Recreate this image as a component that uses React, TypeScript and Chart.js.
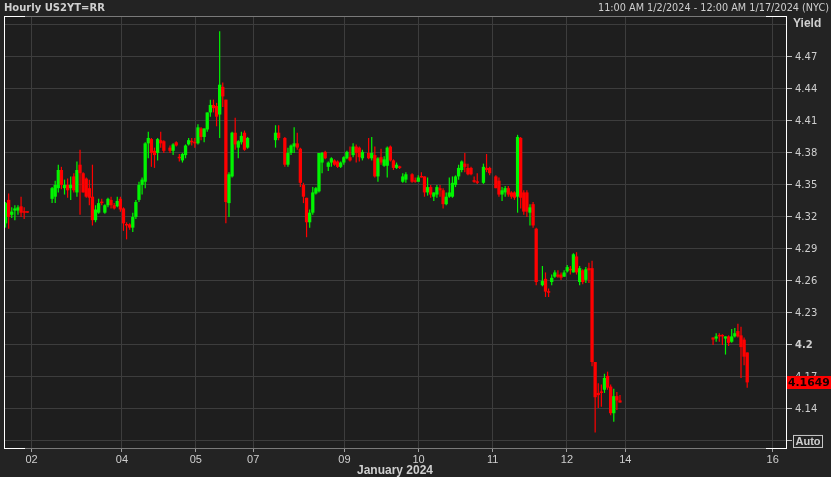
import React, { useEffect, useRef } from 'react';
import { Chart, registerables } from 'chart.js';

Chart.register(...registerables);

// ---- Data (hourly candles, slot = hour index on the trading axis) ----
const slots = [
  0, 1, 2, 3, 4, 5, 6, 7,
  15, 16, 17, 18, 19, 20, 21, 22, 23, 24, 25, 26, 27, 28, 29, 30, 31, 32, 33, 34, 35, 36, 37, 38, 39, 40,
  41, 42, 43, 44, 45, 46, 47, 48, 49, 50, 51, 53, 54, 55, 56, 57, 58, 59, 60, 61, 62, 63, 64, 65, 66, 67,
  68, 69, 70, 71, 72, 73, 74, 75, 76, 77, 78,
  87, 88, 90, 91, 92, 93, 94, 95, 96, 97, 98, 99, 100, 101, 102, 103, 104, 105, 106, 107, 108, 109, 110,
  111, 112, 113, 114, 115, 117, 118, 119, 120, 121, 122, 123, 124, 125, 126, 127, 128, 129,
  131, 132, 133, 134, 135, 136, 137, 138, 139, 140, 141, 142, 143, 144, 145, 146, 147, 148, 149, 150,
  151, 152, 154, 155, 156, 158, 159, 160, 161, 162, 163, 164, 165, 166, 167, 168, 169, 170, 171,
  173, 174, 175, 176, 177, 178, 179, 180, 181, 182, 183, 184, 185, 186, 187, 188, 189, 190, 191, 192,
  193, 194, 195, 196, 197, 198,
  228, 229, 230, 231, 232, 233, 234, 235, 236, 237, 238, 239,
];
const opens = [
  4.314, 4.336, 4.322, 4.326, 4.326, 4.330, 4.325, 4.325,
  4.337, 4.339, 4.347, 4.364, 4.347, 4.350, 4.347, 4.358, 4.343, 4.369, 4.361, 4.356, 4.347, 4.339, 4.317, 4.324, 4.334, 4.324, 4.331, 4.336, 4.331, 4.330, 4.337, 4.328, 4.313, 4.313,
  4.310, 4.320, 4.336, 4.350, 4.353, 4.389, 4.393, 4.382, 4.380, 4.392, 4.391, 4.385, 4.382, 4.390, 4.376, 4.373, 4.378, 4.388, 4.391, 4.390, 4.389, 4.403, 4.395, 4.402, 4.418, 4.425,
  4.424, 4.416, 4.442, 4.430, 4.333, 4.358, 4.399, 4.385, 4.390, 4.399, 4.385,
  4.392, 4.399, 4.394, 4.369, 4.380, 4.386, 4.389, 4.384, 4.350, 4.338, 4.315, 4.324, 4.342, 4.344, 4.371, 4.381, 4.367, 4.371, 4.373, 4.372, 4.367, 4.371, 4.375,
  4.376, 4.378, 4.386, 4.385, 4.375, 4.380, 4.375, 4.378, 4.358, 4.376, 4.368, 4.368, 4.386, 4.373, 4.366, 4.367, 4.353, 4.355,
  4.360, 4.354, 4.353, 4.358, 4.358, 4.343, 4.348, 4.339, 4.341, 4.347, 4.345, 4.332, 4.339, 4.339, 4.350, 4.358, 4.364, 4.370, 4.366, 4.366,
  4.354, 4.353, 4.352, 4.366, 4.366, 4.358, 4.354, 4.341, 4.343, 4.347, 4.343, 4.343, 4.339, 4.394, 4.343, 4.343, 4.324, 4.332, 4.309,
  4.256, 4.262, 4.250, 4.259, 4.264, 4.266, 4.266, 4.264, 4.269, 4.271, 4.268, 4.283, 4.259, 4.270, 4.261, 4.272, 4.272, 4.184, 4.155, 4.156,
  4.158, 4.171, 4.161, 4.136, 4.152, 4.148,
  4.207, 4.206, 4.209, 4.209, 4.206, 4.208, 4.203, 4.208, 4.213, 4.209, 4.205, 4.193,
];
const highs = [
  4.334, 4.342, 4.329, 4.331, 4.331, 4.339, 4.329, 4.325,
  4.348, 4.354, 4.369, 4.367, 4.355, 4.356, 4.358, 4.361, 4.372, 4.383, 4.362, 4.357, 4.355, 4.369, 4.331, 4.337, 4.337, 4.332, 4.338, 4.339, 4.333, 4.339, 4.339, 4.329, 4.315, 4.314,
  4.324, 4.336, 4.353, 4.357, 4.390, 4.400, 4.394, 4.385, 4.394, 4.400, 4.392, 4.387, 4.389, 4.391, 4.379, 4.380, 4.388, 4.394, 4.394, 4.394, 4.407, 4.404, 4.403, 4.418, 4.430, 4.430,
  4.427, 4.494, 4.446, 4.430, 4.362, 4.400, 4.413, 4.392, 4.400, 4.401, 4.395,
  4.406, 4.406, 4.395, 4.385, 4.388, 4.404, 4.399, 4.385, 4.352, 4.338, 4.327, 4.348, 4.348, 4.380, 4.381, 4.382, 4.372, 4.376, 4.374, 4.373, 4.372, 4.377, 4.382,
  4.386, 4.389, 4.388, 4.386, 4.383, 4.394, 4.395, 4.386, 4.376, 4.384, 4.377, 4.386, 4.387, 4.374, 4.371, 4.368, 4.361, 4.362,
  4.361, 4.357, 4.359, 4.362, 4.358, 4.357, 4.350, 4.343, 4.350, 4.350, 4.347, 4.343, 4.357, 4.358, 4.359, 4.369, 4.373, 4.380, 4.370, 4.367,
  4.358, 4.361, 4.370, 4.379, 4.367, 4.359, 4.357, 4.348, 4.349, 4.349, 4.344, 4.344, 4.397, 4.395, 4.345, 4.345, 4.332, 4.334, 4.310,
  4.274, 4.268, 4.253, 4.266, 4.270, 4.270, 4.268, 4.270, 4.275, 4.274, 4.286, 4.287, 4.274, 4.271, 4.273, 4.277, 4.279, 4.184, 4.164, 4.163,
  4.173, 4.175, 4.163, 4.159, 4.156, 4.153,
  4.207, 4.211, 4.211, 4.210, 4.208, 4.209, 4.215, 4.216, 4.220, 4.217, 4.207, 4.193,
];
const lows = [
  4.310, 4.309, 4.319, 4.317, 4.322, 4.320, 4.318, 4.324,
  4.333, 4.333, 4.343, 4.346, 4.341, 4.338, 4.336, 4.343, 4.339, 4.322, 4.343, 4.338, 4.331, 4.312, 4.315, 4.323, 4.331, 4.323, 4.329, 4.328, 4.327, 4.329, 4.325, 4.307, 4.299, 4.308,
  4.306, 4.318, 4.334, 4.341, 4.347, 4.375, 4.367, 4.366, 4.373, 4.385, 4.380, 4.380, 4.378, 4.386, 4.372, 4.371, 4.375, 4.387, 4.387, 4.385, 4.388, 4.392, 4.390, 4.400, 4.414, 4.418,
  4.405, 4.394, 4.423, 4.314, 4.320, 4.357, 4.383, 4.375, 4.388, 4.382, 4.384,
  4.385, 4.392, 4.367, 4.367, 4.378, 4.380, 4.383, 4.348, 4.333, 4.301, 4.310, 4.322, 4.341, 4.343, 4.361, 4.374, 4.363, 4.367, 4.368, 4.366, 4.366, 4.369, 4.374,
  4.372, 4.376, 4.371, 4.372, 4.373, 4.374, 4.373, 4.357, 4.353, 4.369, 4.367, 4.357, 4.372, 4.364, 4.365, 4.365, 4.352, 4.352,
  4.352, 4.352, 4.353, 4.357, 4.339, 4.340, 4.338, 4.335, 4.338, 4.339, 4.328, 4.331, 4.338, 4.338, 4.348, 4.355, 4.362, 4.362, 4.359, 4.359,
  4.352, 4.351, 4.351, 4.362, 4.359, 4.347, 4.339, 4.335, 4.339, 4.339, 4.337, 4.336, 4.324, 4.328, 4.322, 4.320, 4.312, 4.310, 4.256,
  4.255, 4.245, 4.245, 4.256, 4.263, 4.263, 4.261, 4.264, 4.268, 4.266, 4.268, 4.266, 4.256, 4.257, 4.258, 4.258, 4.180, 4.118, 4.141, 4.142,
  4.155, 4.158, 4.134, 4.128, 4.139, 4.146,
  4.200, 4.203, 4.203, 4.200, 4.191, 4.199, 4.202, 4.207, 4.207, 4.169, 4.181, 4.160,
];
const closes = [
  4.333, 4.320, 4.325, 4.328, 4.329, 4.324, 4.324, 4.324,
  4.347, 4.350, 4.364, 4.350, 4.350, 4.345, 4.350, 4.345, 4.364, 4.361, 4.343, 4.339, 4.338, 4.317, 4.327, 4.333, 4.333, 4.331, 4.337, 4.331, 4.328, 4.335, 4.327, 4.314, 4.312, 4.310,
  4.320, 4.334, 4.350, 4.355, 4.389, 4.394, 4.380, 4.378, 4.393, 4.389, 4.382, 4.382, 4.388, 4.387, 4.375, 4.379, 4.387, 4.392, 4.390, 4.389, 4.404, 4.395, 4.403, 4.418, 4.425, 4.422,
  4.414, 4.444, 4.433, 4.334, 4.360, 4.399, 4.388, 4.391, 4.396, 4.383, 4.394,
  4.399, 4.394, 4.369, 4.380, 4.387, 4.389, 4.385, 4.352, 4.339, 4.315, 4.324, 4.343, 4.347, 4.380, 4.380, 4.375, 4.371, 4.375, 4.369, 4.367, 4.371, 4.376, 4.381,
  4.373, 4.386, 4.380, 4.376, 4.381, 4.375, 4.380, 4.358, 4.375, 4.371, 4.374, 4.385, 4.373, 4.366, 4.369, 4.366, 4.358, 4.360,
  4.353, 4.353, 4.357, 4.357, 4.343, 4.348, 4.341, 4.343, 4.348, 4.345, 4.332, 4.339, 4.343, 4.352, 4.358, 4.366, 4.372, 4.367, 4.360, 4.360,
  4.353, 4.352, 4.367, 4.364, 4.361, 4.347, 4.341, 4.345, 4.347, 4.341, 4.339, 4.338, 4.395, 4.338, 4.325, 4.325, 4.329, 4.312, 4.259,
  4.260, 4.250, 4.249, 4.263, 4.268, 4.264, 4.263, 4.268, 4.273, 4.270, 4.285, 4.268, 4.272, 4.259, 4.271, 4.270, 4.184, 4.151, 4.153, 4.155,
  4.169, 4.160, 4.136, 4.152, 4.148, 4.146,
  4.205, 4.208, 4.208, 4.208, 4.208, 4.202, 4.208, 4.211, 4.208, 4.198, 4.189, 4.1649,
];

const dayTickSlots = [8.4, 37.5, 61.3, 79.8, 109.2, 133.1, 157.0, 180.9, 199.7, 247.2];
const dayTickLabels = ['02', '04', '05', '07', '09', '10', '11', '12', '14', '16'];
const yieldTicks = [4.11, 4.14, 4.17, 4.2, 4.23, 4.26, 4.29, 4.32, 4.35, 4.38, 4.41, 4.44, 4.47, 4.5];

const chartTitle = 'Hourly US2YT=RR';
const rangeText = '11:00 AM 1/2/2024 - 12:00 AM 1/17/2024 (NYC)';
const monthLabel = 'January 2024';
const axisName = 'Yield';
const autoLabel = 'Auto';
const slotCount = 252;
const yMin = 4.1034;
const yMax = 4.5084;

const UP = '#00f500';
const DOWN = '#ff0000';
const TEXT = '#cfcfcf';
const GRID = '#3d3d3d';
const SANS = "'DejaVu Sans', Verdana, sans-serif";
const ARIAL = "'Liberation Sans', Arial, sans-serif";

const candleColor = (i: number) => (closes[i] >= opens[i] ? UP : DOWN);

const framePlugin = {
  id: 'framePlugin',
  beforeDraw(chart: any) {
    const { ctx, chartArea: a, width, height } = chart;
    ctx.save();
    ctx.fillStyle = '#232323';
    ctx.fillRect(0, 0, width, height);
    ctx.fillStyle = '#1e1e1e';
    ctx.fillRect(a.left, a.top, a.right - a.left, a.bottom - a.top);
    ctx.restore();
  },
  afterDraw(chart: any) {
    const { ctx, chartArea: a, width } = chart;
    const yScale = chart.scales.y;
    ctx.save();
    // frame
    ctx.lineWidth = 1;
    ctx.strokeStyle = '#7a7a7a';
    ctx.beginPath();
    ctx.moveTo(a.left, a.top + 0.5);
    ctx.lineTo(a.right, a.top + 0.5);
    ctx.moveTo(a.left, a.bottom + 0.5);
    ctx.lineTo(a.right, a.bottom + 0.5);
    ctx.stroke();
    ctx.strokeStyle = '#ffffff';
    ctx.beginPath();
    ctx.moveTo(a.left + 0.5, a.top);
    ctx.lineTo(a.left + 0.5, a.bottom + 1);
    ctx.moveTo(a.right + 0.5, a.top);
    ctx.lineTo(a.right + 0.5, a.bottom + 1);
    ctx.moveTo(a.left, a.top + 0.5);
    ctx.lineTo(a.left + 21, a.top + 0.5);
    ctx.moveTo(a.right - 20, a.top + 0.5);
    ctx.lineTo(a.right + 1, a.top + 0.5);
    ctx.moveTo(a.left, a.bottom + 0.5);
    ctx.lineTo(a.left + 21, a.bottom + 0.5);
    ctx.moveTo(a.right - 20, a.bottom + 0.5);
    ctx.lineTo(a.right + 1, a.bottom + 0.5);
    ctx.stroke();

    // header texts
    ctx.fillStyle = TEXT;
    ctx.textBaseline = 'alphabetic';
    ctx.textAlign = 'left';
    ctx.font = `bold 10px ${SANS}`;
    ctx.fillText(chartTitle, 4, 11);
    ctx.textAlign = 'right';
    ctx.font = `9.7px ${SANS}`;
    ctx.fillText(rangeText, width - 2, 11);

    // axis name
    ctx.textAlign = 'left';
    ctx.font = `bold 12px ${ARIAL}`;
    ctx.fillText(axisName, a.right + 7, 27);

    // Auto box
    const autoY = yScale.getPixelForValue(yieldTicks[0]);
    ctx.strokeStyle = '#c8c8c8';
    ctx.strokeRect(a.right + 7.5, autoY - 5.5, 29, 12);
    ctx.font = `bold 11px ${ARIAL}`;
    ctx.textAlign = 'center';
    ctx.textBaseline = 'middle';
    ctx.fillStyle = TEXT;
    ctx.fillText(autoLabel, a.right + 22, autoY + 1);

    // last price box
    const last = closes[closes.length - 1];
    const py = yScale.getPixelForValue(last);
    ctx.fillStyle = '#ff0000';
    ctx.fillRect(a.right + 1, Math.round(py) - 6, width - a.right - 1, 13);
    ctx.fillStyle = '#1a0000';
    ctx.textAlign = 'left';
    ctx.font = `bold 10.8px ${SANS}`;
    ctx.fillText(last.toFixed(4), a.right + 2, Math.round(py) + 1);
    ctx.restore();
  },
};

export default function App() {
  const canvasRef = useRef<HTMLCanvasElement | null>(null);

  useEffect(() => {
    document.body.style.margin = '0';
    document.body.style.background = '#232323';
    const canvas = canvasRef.current;
    if (!canvas) return;

    const wickData = slots.map((s, i) => ({ x: s, y: [lows[i], highs[i]] }));
    const bodyData = slots.map((s, i) => ({ x: s, y: [opens[i], closes[i]] }));
    const colors = slots.map((_, i) => candleColor(i));

    const chart = new Chart(canvas, {
      type: 'bar',
      data: {
        datasets: [
          {
            label: 'body',
            data: bodyData as any,
            backgroundColor: colors,
            barThickness: 3.3,
            grouped: false,
            minBarLength: 1.5,
            borderWidth: 0,
            inflateAmount: 0,
          },
          {
            label: 'wick',
            data: wickData as any,
            backgroundColor: colors,
            barThickness: 1.2,
            grouped: false,
            minBarLength: 1,
            borderWidth: 0,
            inflateAmount: 0,
          },
        ],
      },
      options: {
        animation: false,
        responsive: false,
        maintainAspectRatio: false,
        events: [],
        layout: { padding: { left: 4, top: 16, right: 0, bottom: 0 } },
        plugins: {
          legend: { display: false },
          tooltip: { enabled: false },
          title: { display: false },
        },
        scales: {
          x: {
            type: 'linear',
            min: -0.5,
            max: slotCount - 0.5,
            offset: false,
            afterBuildTicks: (s: any) => {
              s.ticks = dayTickSlots.map((v) => ({ value: v }));
            },
            afterFit: (s: any) => {
              s.height = 29;
            },
            grid: {
              offset: false,
              color: GRID,
              tickColor: '#a0a0a0',
              tickLength: 4,
              lineWidth: 1,
            },
            border: { display: false },
            ticks: {
              autoSkip: false,
              maxRotation: 0,
              padding: 1,
              color: TEXT,
              font: { family: ARIAL, size: 11 },
              callback: (_v: any, i: number) => dayTickLabels[i],
            },
            title: {
              display: true,
              text: monthLabel,
              color: TEXT,
              font: { family: ARIAL, size: 12, weight: 'bold', lineHeight: 1 },
              padding: { top: 0, bottom: 0 },
            },
          },
          y: {
            type: 'linear',
            position: 'right',
            min: yMin,
            max: yMax,
            afterBuildTicks: (s: any) => {
              s.ticks = yieldTicks.map((v) => ({ value: v }));
            },
            afterFit: (s: any) => {
              s.width = 45;
            },
            grid: {
              color: GRID,
              tickLength: 6,
              tickColor: (ctx: any) =>
                ctx.tick && ctx.tick.value > 4.49 ? 'rgba(0,0,0,0)' : '#c0c0c0',
            },
            border: { display: false },
            ticks: {
              padding: 3,
              color: TEXT,
              font: (ctx: any) => ({
                family: SANS,
                size: 10,
                weight: ctx.tick && Math.abs(ctx.tick.value - 4.2) < 1e-6 ? 'bold' : 'normal',
              }),
              callback: (v: any) => {
                const n = Number(v);
                if (n < 4.12 || n > 4.49) return '';
                return String(Number(n.toFixed(2)));
              },
            },
          },
        },
      } as any,
      plugins: [framePlugin],
    });

    return () => chart.destroy();
  }, []);

  return (
    <div style={{ position: 'fixed', left: 0, top: 0, width: 831, height: 477 }}>
      <canvas ref={canvasRef} width={831} height={477} style={{ display: 'block', width: 831, height: 477 }} />
    </div>
  );
}
